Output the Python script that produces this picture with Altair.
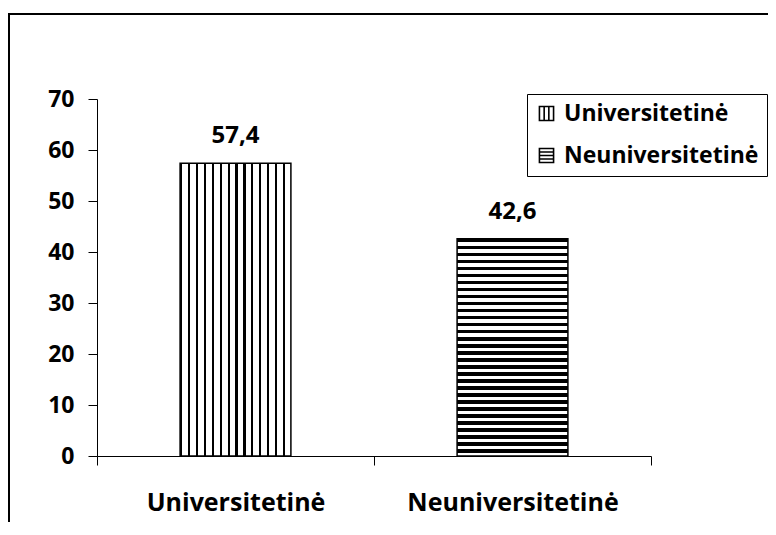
import altair as alt
import pandas as pd

categories = ["Universitetinė", "Neuniversitetinė"]
values = [57.4, 42.6]
y_ticks = [0, 10, 20, 30, 40, 50, 60, 70]

labels = [f"{v:.1f}".replace(".", ",") for v in values]
df = pd.DataFrame({"cat": categories, "val": values, "label": labels})

FONT = "Open Sans"
W, H = 554, 357


def stripes(n, dark, horizontal):
    stops = []
    for i in range(n):
        a = i / n
        m = (i + dark) / n
        b = (i + 1) / n
        stops += [
            {"offset": a, "color": "black"},
            {"offset": m, "color": "black"},
            {"offset": m, "color": "white"},
            {"offset": b, "color": "white"},
        ]
    g = {"gradient": "linear", "stops": stops, "x1": 0, "y1": 0}
    if horizontal:
        g.update({"x2": 0, "y2": 1})
    else:
        g.update({"x2": 1, "y2": 0})
    return g


fill_vertical = stripes(14, 0.27, False)
fill_horizontal = stripes(31, 0.52, True)

x_enc = alt.X(
    "cat:N",
    sort=categories,
    scale=alt.Scale(paddingInner=0, paddingOuter=0),
    axis=alt.Axis(
        title=None,
        labelAngle=0,
        labelFont=FONT,
        labelFontSize=25,
        labelFontWeight="bold",
        labelColor="black",
        labelPadding=25,
        labelLimit=400,
        tickBand="extent",
        tickSize=9,
        tickColor="black",
        domainColor="black",
        grid=False,
    ),
)
y_enc = alt.Y(
    "val:Q",
    scale=alt.Scale(domain=[0, 70], nice=False),
    axis=alt.Axis(
        title=None,
        values=y_ticks,
        labelFont=FONT,
        labelFontSize=23,
        labelFontWeight="bold",
        labelColor="black",
        labelPadding=14,
        tickSize=9,
        tickColor="black",
        domainColor="black",
        grid=False,
    ),
)

base = alt.Chart(df)

border = alt.Chart(alt.Data(values=[{"a": 1}])).mark_rect(
    fill="white", fillOpacity=0, stroke="black", strokeWidth=2
).encode(x=alt.value(-88), x2=alt.value(W + 300), y=alt.value(-85), y2=alt.value(H + 300))

bar1 = base.transform_filter(alt.datum.cat == categories[0]).mark_bar(
    fill=fill_vertical, stroke="black", strokeWidth=1.5, width=alt.RelativeBandSize(0.4)
).encode(x=x_enc, y=y_enc)
bar2 = base.transform_filter(alt.datum.cat == categories[1]).mark_bar(
    fill=fill_horizontal, stroke="black", strokeWidth=1.5, width=alt.RelativeBandSize(0.4)
).encode(x=x_enc, y=y_enc)

text = base.mark_text(
    dy=-20, baseline="alphabetic", font=FONT, fontSize=24, fontWeight="bold", color="black"
).encode(x=x_enc, y=y_enc, text="label:N")

sym_v = "M-1,-1H1V1H-1Z M-0.33,-1V1 M0.33,-1V1"
sym_h = "M-1,-1H1V1H-1Z M-1,-0.5H1 M-1,0H1 M-1,0.5H1"

legend_pts = base.mark_point(opacity=0, filled=False, color="black", strokeWidth=1.6).encode(
    x=x_enc,
    y=y_enc,
    shape=alt.Shape(
        "cat:N",
        scale=alt.Scale(domain=categories, range=[sym_v, sym_h]),
        legend=alt.Legend(
            title=None,
            orient="none",
            legendX=430,
            legendY=-5,
            padding=8,
            strokeColor="black",
            fillColor="white",
            labelFont=FONT,
            labelFontSize=23,
            labelFontWeight="bold",
            labelColor="black",
            labelOffset=6,
            rowPadding=18,
            symbolSize=200,
            symbolOpacity=1,
            symbolStrokeColor="black",
            symbolStrokeWidth=1.6,
            labelLimit=400,
        ),
    ),
)

chart = alt.layer(border, bar1, bar2, text, legend_pts).properties(
    width=W,
    height=H,
    padding={"left": 89, "top": 91, "right": 117, "bottom": 66},
    autosize=alt.AutoSizeParams(type="none"),
    background="white",
).configure_view(stroke=None)

chart.save("out.html", embed_options={"renderer": "svg", "actions": False})
